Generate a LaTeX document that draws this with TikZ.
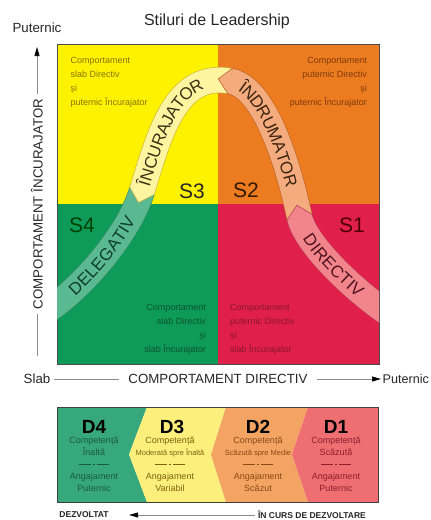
\documentclass[tikz,border=0pt]{standalone}
\usepackage{fontspec}
\setmainfont{Liberation Sans}
\usetikzlibrary{arrows.meta,decorations.markings,decorations.text}

\definecolor{quadyellow}{HTML}{FFF200}
\definecolor{quadorange}{HTML}{EC7C1F}
\definecolor{quadgreen}{HTML}{0E9A58}
\definecolor{quadred}{HTML}{E11F4B}
\definecolor{bandyellow}{HTML}{FFF5A0}
\definecolor{bandorange}{HTML}{F4AC7E}
\definecolor{bandgreen}{HTML}{5BB992}
\definecolor{bandred}{HTML}{F2858C}
\definecolor{edgeyellow}{HTML}{C9B23A}
\definecolor{edgeorange}{HTML}{B9652C}
\definecolor{edgegreen}{HTML}{3B8A67}
\definecolor{edgered}{HTML}{B54356}
\definecolor{txtyellow}{HTML}{867300}
\definecolor{txtorange}{HTML}{7E3A0C}
\definecolor{txtgreen}{HTML}{0B5430}
\definecolor{txtred}{HTML}{8A1530}
\definecolor{inkyellow}{HTML}{3A3315}
\definecolor{inkorange}{HTML}{3D2412}
\definecolor{inkgreen}{HTML}{0E3F2A}
\definecolor{inkred}{HTML}{4F1420}
\definecolor{devgreen}{HTML}{37A77C}
\definecolor{devyellow}{HTML}{FCEF7C}
\definecolor{devorange}{HTML}{F3A463}
\definecolor{devred}{HTML}{EE6E72}
\definecolor{devtxtgreen}{HTML}{1A5B3E}
\definecolor{devtxtyellow}{HTML}{7E6410}
\definecolor{devtxtorange}{HTML}{8A4916}
\definecolor{devtxtred}{HTML}{8E1F2D}

\newcommand{\bandfont}{\fontsize{17}{17}\selectfont}
\newcommand{\sepmark}{\rule[3pt]{12pt}{0.6pt}\hspace{2pt}\rule[2.4pt]{1.8pt}{1.8pt}\hspace{2pt}\rule[3pt]{12pt}{0.6pt}}

\begin{document}
\begin{tikzpicture}[x = 1pt, y = -1pt,
  quadtext/.style = {inner sep = 0pt, font = \fontsize{9}{14}\selectfont},
  slabel/.style = {font = \fontsize{21}{21}\selectfont},
  axislabel/.style = {font = \fontsize{13.3}{15}\selectfont, text = black!85},
  axisline/.style = {draw = black!45, line width = 0.7pt},
  axistip/.style = {-{Triangle[length = 9pt, width = 5pt, black]}},
  bandseg/.style 2 args = {draw = #2, double = #1, line width = 0.6pt, double distance = 25pt},
  bandtip/.style 2 args = {postaction = {decorate, decoration = {markings, mark = at position 0 with {\filldraw[draw = #2, fill = #1, line width = 0.6pt] (0.4pt,-13.1pt)--(-12pt,0pt)--(0.4pt,13.1pt);}}}},
  bandtext/.style n args = {3}{decorate, decoration = {text along path, text = {|\bandfont\color{#3}|#1}, text align = {left indent = #2}, raise = -6.1pt}},
  dlabel/.style = {font = \bfseries\fontsize{19}{19}\selectfont},
  dtext/.style = {anchor = north, inner sep = 0pt, align = center, font = \fontsize{9}{12}\selectfont},
  devlabel/.style = {font = \bfseries\fontsize{8.5}{10}\selectfont, text = black!85}]
\useasboundingbox (0,0) rectangle (431,520);

\node[font = \fontsize{16}{18}\selectfont, text = black!85] (title) at (217,21) {Stiluri de Leadership};

\fill[quadyellow] (57,44) rectangle (218,204);
\fill[quadorange] (218,44) rectangle (379,204);
\fill[quadgreen] (57,204) rectangle (218,364);
\fill[quadred] (218,204) rectangle (379,364);
\draw[black!70, line width = 0.8pt] (57,44) rectangle (379,364);

\node[quadtext, anchor = north west, align = left, text = txtyellow] (tl) at (70.5,57.5) {Comportament\\slab Directiv\\și\\puternic Încurajator};
\node[quadtext, anchor = north east, align = right, text = txtorange] (tr) at (367,57.5) {Comportament\\puternic Directiv\\și\\puternic Încurajator};
\node[quadtext, anchor = north east, align = right, text = txtgreen] (bl) at (206,304.5) {Comportament\\slab Directiv\\și\\slab Încurajator};
\node[quadtext, anchor = north west, align = left, text = txtred] (br) at (230,304.5) {Comportament\\puternic Directiv\\și\\slab Încurajator};

\coordinate (b0) at (45,312);
\coordinate (b1) at (142,191);
\coordinate (b2) at (230,81);
\coordinate (b3) at (299.5,217);
\coordinate (b4) at (395,318);

\begin{scope}
\clip (57,44) rectangle (379,364);
\draw[bandseg = {bandgreen}{edgegreen}] (b0) .. controls (75,294) and (127,239) .. (b1);
\draw[bandseg = {bandyellow}{edgeyellow}, bandtip = {bandyellow}{edgeyellow}] (b1) .. controls (159.5,133.6) and (175.8,71.6) .. (b2);
\draw[bandseg = {bandorange}{edgeorange}, bandtip = {bandorange}{edgeorange}] (b2) .. controls (264.5,87) and (288,163) .. (b3);
\draw[bandseg = {bandred}{edgered}, bandtip = {bandred}{edgered}] (b3) .. controls (305.8,246.4) and (361,296.8) .. (b4);
\path[bandtext = {DELEGATIV}{33pt}{inkgreen}] (b0) .. controls (75,294) and (127,239) .. (b1);
\path[bandtext = {ÎNCURAJATOR}{6pt}{inkyellow}] (b1) .. controls (159.5,133.6) and (175.8,71.6) .. (b2);
\path[bandtext = {ÎNDRUMATOR}{12pt}{inkorange}] (b2) .. controls (264.5,87) and (288,163) .. (b3);
\path[bandtext = {DIRECTIV}{20pt}{inkred}] (b3) .. controls (305.8,246.4) and (361,296.8) .. (b4);
\end{scope}

\node[slabel, text = black!85] (s3) at (192,191) {S3};
\node[slabel, text = black!80!orange] (s2) at (246,190) {S2};
\node[slabel, text = black!75!green] (s4) at (82,225) {S4};
\node[slabel, text = black!70!red] (s1) at (352,225) {S1};

\node[axislabel] (puty) at (37,28) {Puternic};
\node[axislabel, rotate = 90, inner sep = 5pt] (inclabel) at (37,204) {COMPORTAMENT ÎNCURAJATOR};
\coordinate (ytop) at (37,47);
\coordinate (ybottom) at (37,356);
\draw[axisline] (ybottom)--(inclabel);
\draw[axisline, axistip] (inclabel)--(ytop);

\node[axislabel] (slab) at (37,379) {Slab};
\node[axislabel, inner sep = 9pt] (dirlabel) at (218,379) {COMPORTAMENT DIRECTIV};
\node[axislabel, anchor = west, inner sep = 1.5pt, font = \fontsize{12.6}{15}\selectfont] (putx) at (381,379) {Puternic};
\draw[axisline] (slab)--(dirlabel);
\draw[axisline, axistip] (dirlabel)--(putx);

\fill[devgreen] (57,407)--(147,407)--(129,454.5)--(147,502)--(57,502)--cycle;
\fill[devyellow] (147,407)--(226,407)--(211,454.5)--(226,502)--(147,502)--(129,454.5)--cycle;
\fill[devorange] (226,407)--(308,407)--(292,454.5)--(308,502)--(226,502)--(211,454.5)--cycle;
\fill[devred] (308,407)--(378,407)--(378,502)--(308,502)--(292,454.5)--cycle;
\draw[black!75, line width = 1pt] (57,407) rectangle (378,502);

\node[dlabel] (d4) at (94,427) {D4};
\node[dlabel] (d3) at (172,427) {D3};
\node[dlabel] (d2) at (258,427) {D2};
\node[dlabel] (d1) at (336,427) {D1};
\node[dtext, text = devtxtgreen] (d4txt) at (94,437) {Competență\\Înaltă\\\sepmark\\Angajament\\Puternic};
\node[dtext, text = devtxtyellow] (d3txt) at (170,437) {Competență\\{\fontsize{7.5}{12}\selectfont Moderată spre Înaltă}\\\sepmark\\Angajament\\Variabil};
\node[dtext, text = devtxtorange] (d2txt) at (258,437) {Competență\\{\fontsize{7.5}{12}\selectfont Scăzută spre Medie}\\\sepmark\\Angajament\\Scăzut};
\node[dtext, text = devtxtred] (d1txt) at (336,437) {Competență\\Scăzută\\\sepmark\\Angajament\\Puternic};

\node[devlabel] (dezv) at (84,515) {DEZVOLTAT};
\node[devlabel] (curs) at (312,515) {ÎN CURS DE DEZVOLTARE};
\draw[axisline, axistip, shorten > = 17pt] (curs)--(dezv);
\end{tikzpicture}
\end{document}
